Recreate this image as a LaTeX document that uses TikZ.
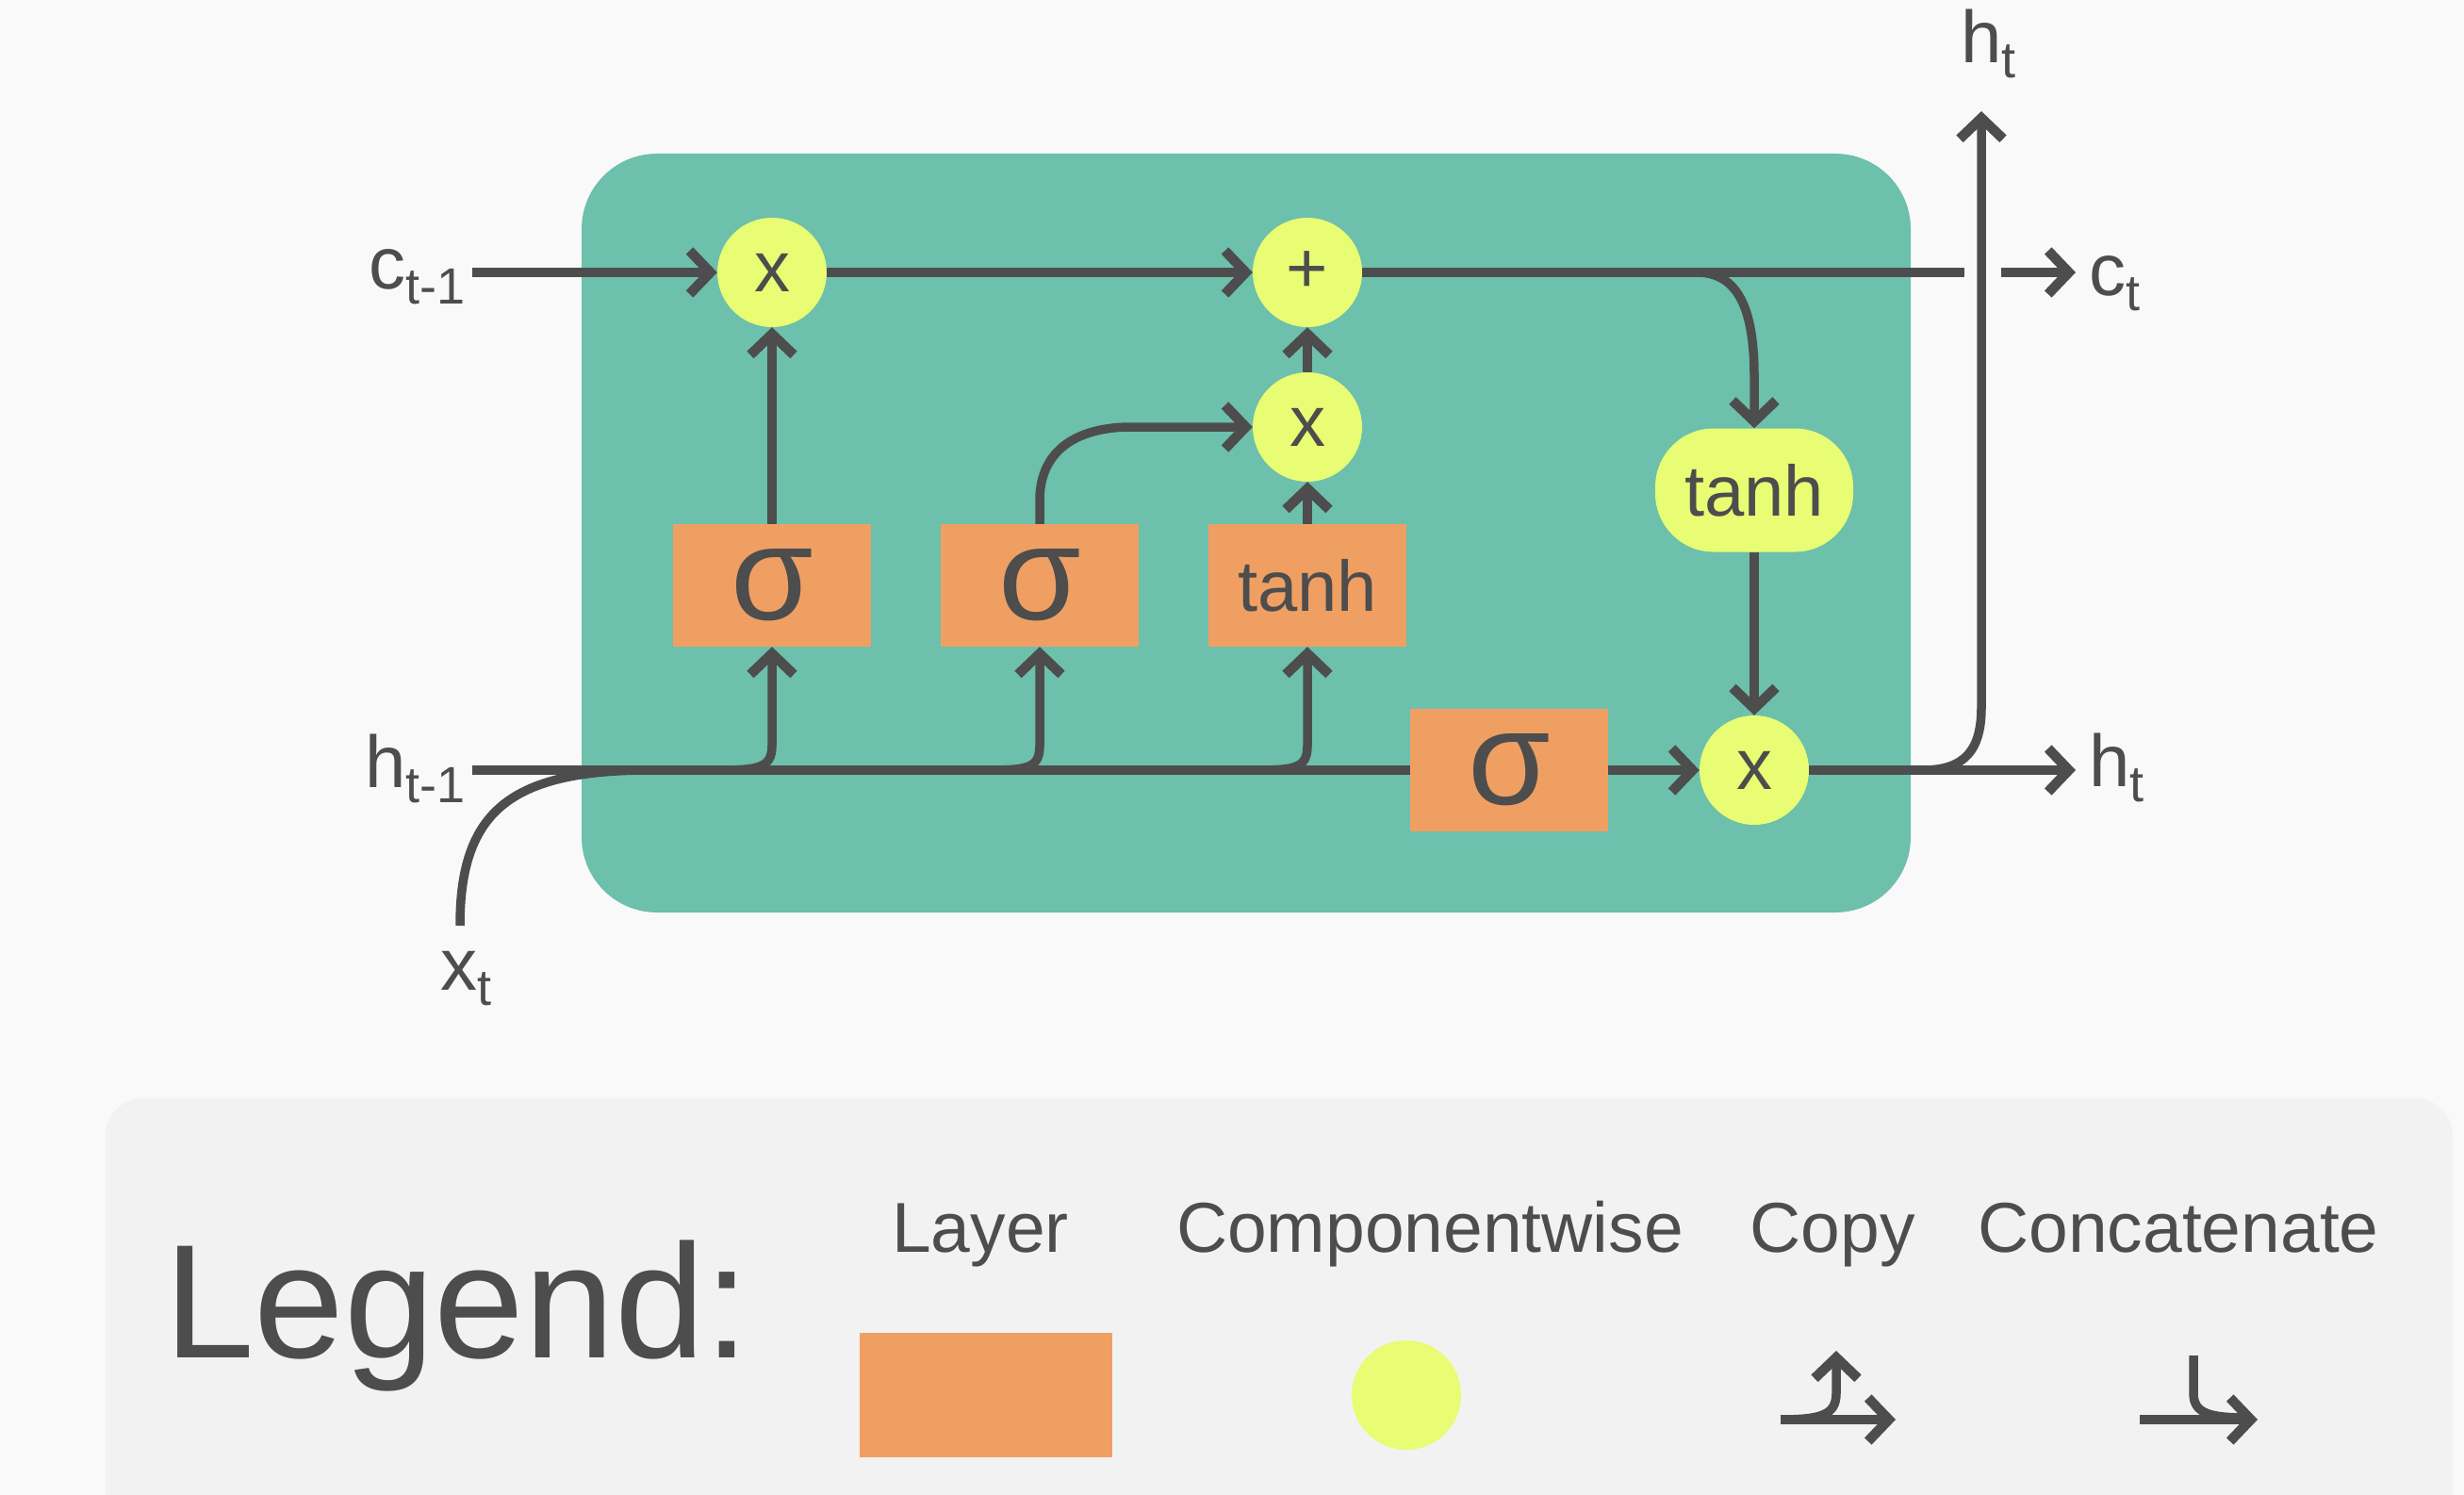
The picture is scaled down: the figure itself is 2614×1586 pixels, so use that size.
\documentclass[tikz,border=0pt]{standalone}
\usepackage{fontspec}
\setmainfont{Liberation Sans}
\usetikzlibrary{arrows.meta,calc}
\definecolor{lstmgreen}{HTML}{6DC0AB}
\definecolor{lstmorange}{HTML}{F09F63}
\definecolor{lstmyellow}{HTML}{E8FC74}
\definecolor{lstmgray}{HTML}{4D4D4D}
\definecolor{legendbg}{HTML}{F2F2F2}
\definecolor{pagebg}{HTML}{F9F9F9}
\newcommand\lbsub[1]{\raisebox{-16pt}{\fontsize{54}{54}\selectfont #1}}
\begin{document}
\begin{tikzpicture}[x=1pt,y=-1pt,
  line/.style={draw=lstmgray,line width=9.5pt},
  arr/.style={line,-{Straight Barb[length=22pt,width=46pt,line width=10.5pt,line join=miter]}},
  op/.style={circle,fill=lstmyellow,minimum size=116pt,inner sep=0pt,text=lstmgray,font=\fontsize{76}{80}\selectfont},
  layer/.style={rectangle,fill=lstmorange,minimum width=210pt,minimum height=130pt,inner sep=0pt,text=lstmgray,font=\fontsize{142}{142}\selectfont},
  lbl/.style={inner sep=0pt,outer sep=0pt,text=lstmgray,font=\fontsize{78}{80}\selectfont}]
\useasboundingbox (0,0) rectangle (2614,1586);
\fill[pagebg] (0,0) rectangle (2614,1586);
\clip (0,0) rectangle (2614,1586);
\fill[lstmgreen, rounded corners=80pt] (617,163) rectangle (2027,968);
\fill[legendbg, rounded corners=40pt] (112,1165) rectangle (2602,1640);

% operation and layer nodes
\node[op] (f1) at (819,289) {x};
\node[op] (add) at (1387,289) {+};
\node[op] (m2) at (1387,453) {x};
\node[layer] (s1) at (819,621) {σ};
\node[layer] (s2) at (1103,621) {σ};
\node[layer,font=\fontsize{76}{80}\selectfont] (tb) at (1387,621) {tanh};
\node[layer] (s3) at (1601,817) {σ};
\node[op] (om) at (1861,817) {x};
\node[fill=lstmyellow,rounded corners=62pt,minimum width=210pt,minimum height=131pt,inner sep=0pt,text=lstmgray,font=\fontsize{76}{80}\selectfont] (ty) at (1861,520) {tanh};

% labels
\node[lbl,anchor=base east] (lc) at (494,307) {c\lbsub{t-1}};
\node[lbl,anchor=base east] (lh) at (494,835) {h\lbsub{t-1}};
\node[lbl,anchor=base west] (lx) at (467,1050) {x\lbsub{t}};
\node[lbl,anchor=base west] (lht) at (2080,67) {h\lbsub{t}};
\node[lbl,anchor=base west] (lct) at (2216,314) {c\lbsub{t}};
\node[lbl,anchor=base west] (lhr) at (2216,834) {h\lbsub{t}};

% free ends
\coordinate (cg1) at (2084,289);
\coordinate (cg2) at (2123,289);
\coordinate (hup) at (2102,118);
\coordinate (hbr) at (2040,817);
\coordinate (xs) at (488,982);
\coordinate (xj) at (690,817);
\coordinate (b1) at (757,817);
\coordinate (b2) at (1043,817);
\coordinate (b3) at (1327,817);
\coordinate (cb) at (1800,289);

% cell state
\draw[arr] ($(lc.east |- f1)+(7,0)$) -- (f1.west);
\draw[arr] (f1) -- (add);
\draw[line] (add.east) -- (cg1);
\draw[arr] (cg2) -- ($(cg2 -| lct.west)+(-14,0)$);
\draw[arr] (cb) .. controls +(45,0) and +(0,-70) .. (1861,400) -- (ty.north);

% gates
\draw[arr] (s1) -- (f1);
\draw[arr] (tb) -- (m2);
\draw[arr] (m2) -- (add);
\draw[arr] (s2.north) -- ++(0,-25) .. controls +(0,-55) and +(-55,0) .. (1200,453) -- (m2.west);
\draw[arr] (ty) -- (om);
\draw[arr] (s3) -- (om);

% hidden state input
\draw[line] ($(lh.east |- s3)+(7,0)$) -- (s3.west);
\draw[line] (xs) .. controls +(0,-120) and +(-150,0) .. (xj);
\draw[arr] (b1) .. controls +(45,0) and +(0,25) .. ($(s1.south)+(0,105)$) -- (s1.south);
\draw[arr] (b2) .. controls +(45,0) and +(0,25) .. ($(s2.south)+(0,105)$) -- (s2.south);
\draw[arr] (b3) .. controls +(45,0) and +(0,25) .. ($(tb.south)+(0,105)$) -- (tb.south);

% outputs
\draw[arr] (om) -- ($(om -| lhr.west)+(-14,0)$);
\draw[arr] (hbr) .. controls +(45,0) and +(0,45) .. (2102,750) -- (hup);

% legend
\node[lbl,anchor=base west,font=\fontsize{172}{176}\selectfont] (leg) at (174,1440) {Legend:};
\node[lbl,anchor=base,font=\fontsize{75}{80}\selectfont] (tl1) at (1040,1328) {Layer};
\node[lbl,anchor=base,font=\fontsize{75}{80}\selectfont] (tl2) at (1517,1328) {Componentwise};
\node[lbl,anchor=base,font=\fontsize{75}{80}\selectfont] (tl3) at (1944,1328) {Copy};
\node[lbl,anchor=base,font=\fontsize{75}{80}\selectfont] (tl4) at (2311,1328) {Concatenate};
\node[fill=lstmorange,minimum width=268pt,minimum height=132pt,inner sep=0pt] (lgl) at (1046,1480) {};
\node[circle,fill=lstmyellow,minimum size=116pt,inner sep=0pt] (lgc) at (1492,1480) {};
\coordinate (cp1) at (1889,1506);
\coordinate (cp2) at (2011,1506);
\coordinate (cp3) at (1948,1433);
\draw[arr] (cp1) -- (cp2);
\draw[arr] (cp1) .. controls +(45,0) and +(0,22) .. (1948,1478) -- (cp3);
\coordinate (cc1) at (2270,1506);
\coordinate (cc2) at (2395,1506);
\coordinate (cc3) at (2327,1438);
\draw[arr] (cc1) -- (cc2);
\draw[line] (cc3) -- (2327,1478) .. controls +(0,22) and +(-40,0) .. (2385,1504);
\end{tikzpicture}
\end{document}
